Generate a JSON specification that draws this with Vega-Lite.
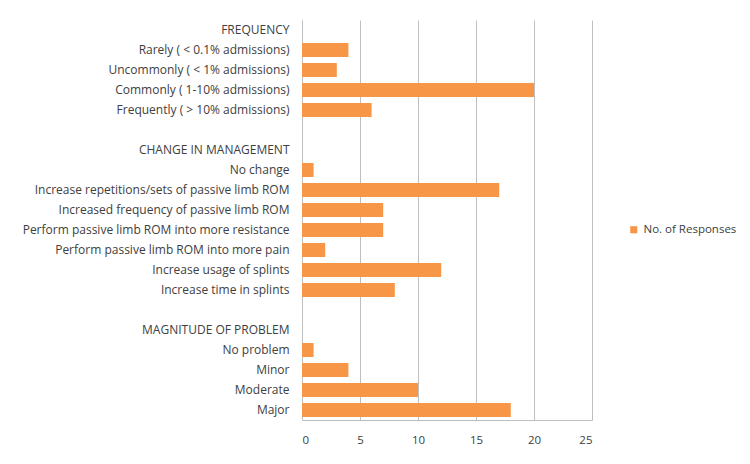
{
  "$schema": "https://vega.github.io/schema/vega-lite/v6.json",
  "autosize": {"type": "none"},
  "padding": {"left": 302, "top": 20, "right": 158, "bottom": 44},
  "width": 290,
  "height": 400,
  "background": "white",
  "config": {
    "view": {"stroke": null},
    "font": "Open Sans",
    "axis": {"labelFont": "Open Sans", "labelColor": "#404040", "labelFontSize": 12}
  },
  "data": {
    "values": [
      {"label": "FREQUENCY", "value": null, "series": "No. of Responses"},
      {"label": "Rarely ( < 0.1% admissions)", "value": 4, "series": "No. of Responses"},
      {"label": "Uncommonly ( < 1% admissions)", "value": 3, "series": "No. of Responses"},
      {"label": "Commonly ( 1-10% admissions)", "value": 20, "series": "No. of Responses"},
      {"label": "Frequently ( > 10% admissions)", "value": 6, "series": "No. of Responses"},
      {"label": " ", "value": null, "series": "No. of Responses"},
      {"label": "CHANGE IN MANAGEMENT", "value": null, "series": "No. of Responses"},
      {"label": "No change", "value": 1, "series": "No. of Responses"},
      {"label": "Increase repetitions/sets of passive limb ROM", "value": 17, "series": "No. of Responses"},
      {"label": "Increased frequency of passive limb ROM", "value": 7, "series": "No. of Responses"},
      {"label": "Perform passive limb ROM into more resistance", "value": 7, "series": "No. of Responses"},
      {"label": "Perform passive limb ROM into more pain", "value": 2, "series": "No. of Responses"},
      {"label": "Increase usage of splints", "value": 12, "series": "No. of Responses"},
      {"label": "Increase time in splints", "value": 8, "series": "No. of Responses"},
      {"label": "  ", "value": null, "series": "No. of Responses"},
      {"label": "MAGNITUDE OF PROBLEM", "value": null, "series": "No. of Responses"},
      {"label": "No problem", "value": 1, "series": "No. of Responses"},
      {"label": "Minor", "value": 4, "series": "No. of Responses"},
      {"label": "Moderate", "value": 10, "series": "No. of Responses"},
      {"label": "Major", "value": 18, "series": "No. of Responses"}
    ]
  },
  "mark": {"type": "bar", "color": "#F79646"},
  "encoding": {
    "y": {
      "field": "label",
      "type": "nominal",
      "sort": null,
      "scale": {
        "domain": ["FREQUENCY", "Rarely ( < 0.1% admissions)", "Uncommonly ( < 1% admissions)", "Commonly ( 1-10% admissions)", "Frequently ( > 10% admissions)", " ", "CHANGE IN MANAGEMENT", "No change", "Increase repetitions/sets of passive limb ROM", "Increased frequency of passive limb ROM", "Perform passive limb ROM into more resistance", "Perform passive limb ROM into more pain", "Increase usage of splints", "Increase time in splints", "  ", "MAGNITUDE OF PROBLEM", "No problem", "Minor", "Moderate", "Major"],
        "paddingInner": 0.3,
        "paddingOuter": 0.15
      },
      "axis": {"title": null, "ticks": false, "domain": true, "domainColor": "#bfbfbf", "labelPadding": 13, "labelLimit": 320}
    },
    "x": {
      "field": "value",
      "type": "quantitative",
      "scale": {"domain": [0, 25], "nice": false},
      "axis": {
        "title": null,
        "values": [0, 5, 10, 15, 20, 25],
        "grid": true,
        "gridColor": "#bfbfbf",
        "gridWidth": 1,
        "domainColor": "#bfbfbf",
        "ticks": false,
        "labelPadding": 14,
        "labelFontSize": 11.5
      }
    },
    "color": {
      "field": "series",
      "type": "nominal",
      "scale": {"range": ["#F79646"]},
      "legend": {
        "title": null,
        "orient": "none",
        "legendX": 326,
        "legendY": 204,
        "symbolType": "square",
        "symbolSize": 50,
        "labelFontSize": 11.5,
        "labelColor": "#404040",
        "labelFont": "Open Sans"
      }
    }
  }
}
